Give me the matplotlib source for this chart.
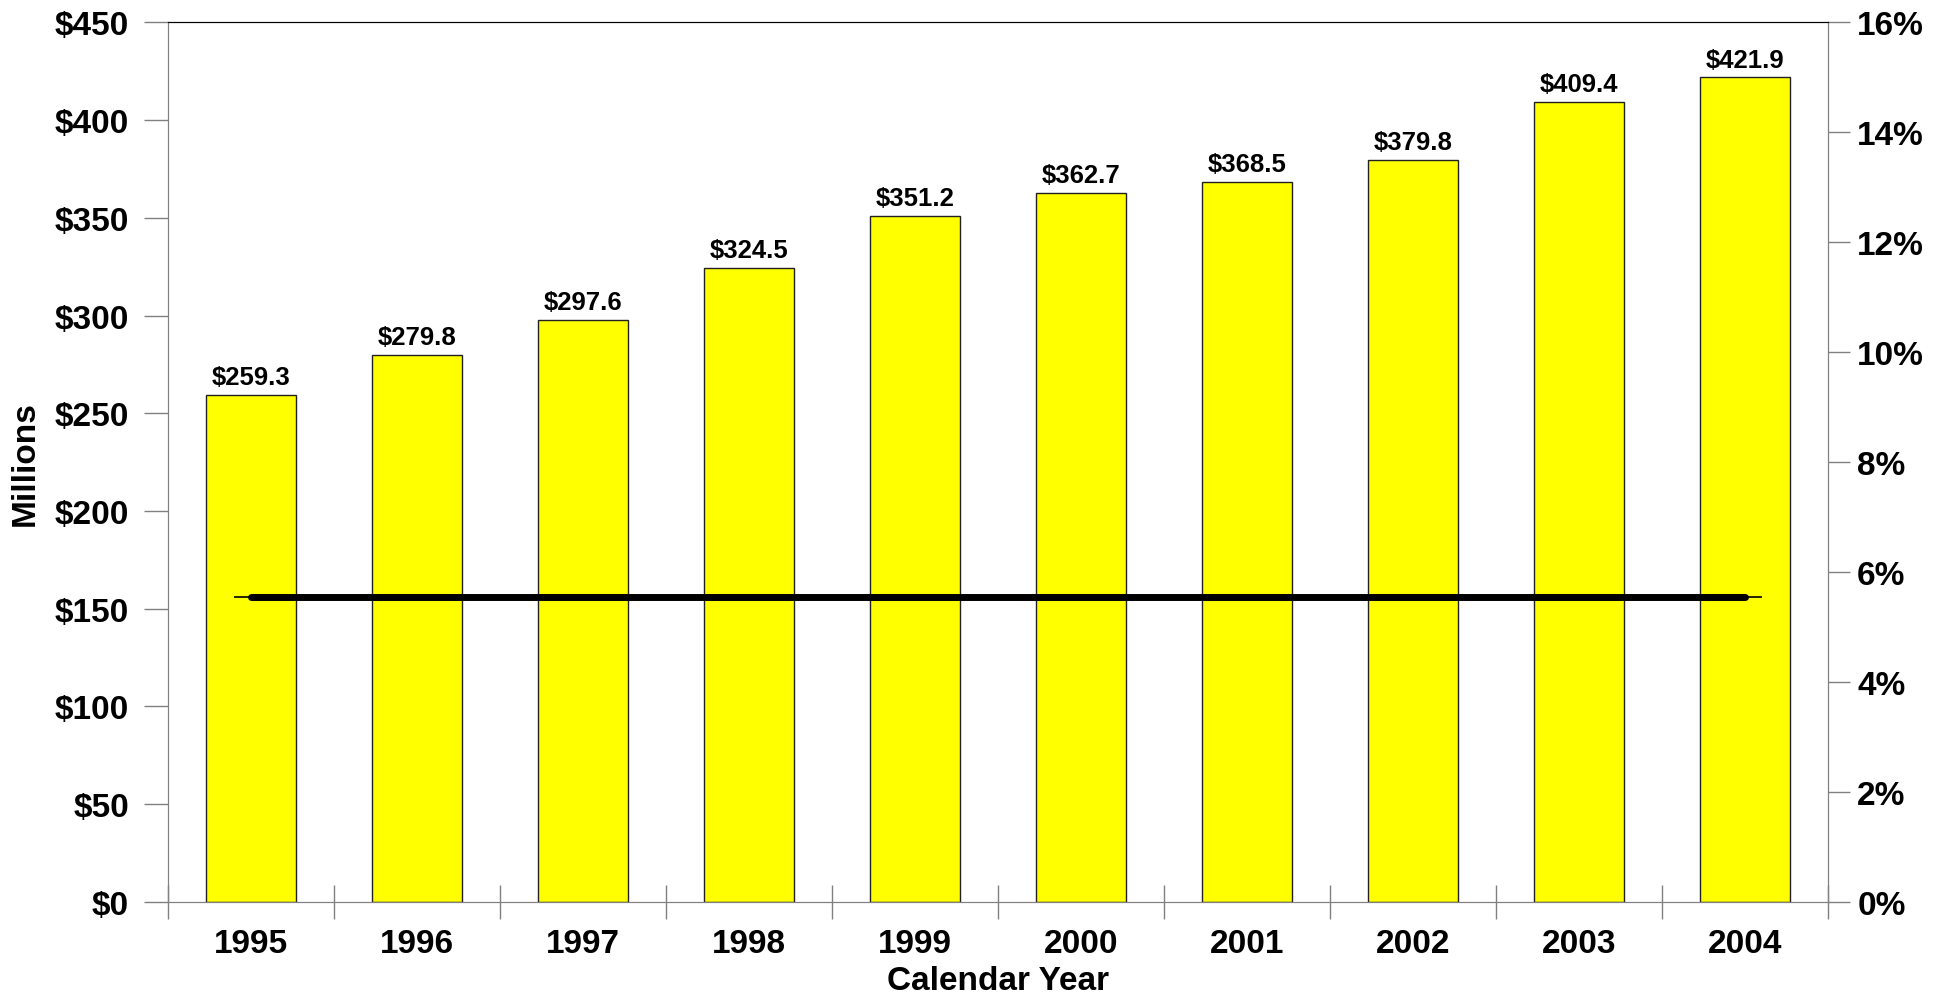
import numpy as np
import matplotlib
matplotlib.use("Agg")
import matplotlib.pyplot as plt

years = ['1995', '1996', '1997', '1998', '1999', '2000', '2001', '2002', '2003', '2004']
revenue = [259.3, 279.8, 297.6, 324.5, 351.2, 362.7, 368.5, 379.8, 409.4, 421.9]
rate = [5.55, 5.55, 5.55, 5.55, 5.55, 5.55, 5.55, 5.55, 5.55, 5.55]

yticks_left = [0, 50, 100, 150, 200, 250, 300, 350, 400, 450]
yticks_right = [0, 2, 4, 6, 8, 10, 12, 14, 16]

plt.rcParams['font.family'] = ['Liberation Sans', 'DejaVu Sans']
plt.rcParams['font.weight'] = 'bold'
gray = '#808080'

fig = plt.figure(figsize=(19.48, 9.95), dpi=100)
ax = fig.add_axes([0.0862, 0.0928, 0.8522, 0.8836])
x = np.arange(len(years))

bars = ax.bar(x, revenue, width=0.54, color='#FFFF00', edgecolor='#202020', linewidth=1, zorder=2)
for xi, v in zip(x, revenue):
    ax.text(xi, v + 3, '$%.1f' % v, ha='center', va='bottom', fontsize=18.5, fontweight='bold')

ax.set_xlim(-0.5, len(years) - 0.5)
ax.set_ylim(0, 450)
ax.set_yticks(yticks_left)
ax.set_yticklabels(['$%d' % t for t in yticks_left], fontsize=24, fontweight='bold')
ax.tick_params(axis='y', length=17, width=1, color=gray, pad=11)

# year labels at centres, tick marks at boundaries
ax.set_xticks(x)
ax.set_xticklabels(years, fontsize=24, fontweight='bold')
ax.tick_params(axis='x', which='major', length=0, pad=19)
ax.set_xticks(np.arange(-0.5, len(years)), minor=True)
ax.tick_params(axis='x', which='minor', direction='inout', length=24, width=1, color=gray)
ax.set_xlabel('Calendar Year', fontsize=24, fontweight='bold', labelpad=4)
ax.set_ylabel('Millions', fontsize=24, fontweight='bold', labelpad=10)

for s in ['left', 'right', 'bottom']:
    ax.spines[s].set_color(gray)
ax.spines['top'].set_color('black')

ax2 = ax.twinx()
ax2.set_ylim(0, 16)
ax2.set_yticks(yticks_right)
ax2.set_yticklabels(['%d%%' % t for t in yticks_right], fontsize=24, fontweight='bold')
ax2.tick_params(axis='y', length=16, width=1, color=gray, pad=5)
for s in ['left', 'right', 'bottom']:
    ax2.spines[s].set_color(gray)
ax2.spines['top'].set_color('black')
ax2.plot(x, rate, color='black', linewidth=5, solid_capstyle='round',
         marker='_', markersize=24, markeredgewidth=1.2, zorder=3)

fig.savefig('out.png', dpi=100)
